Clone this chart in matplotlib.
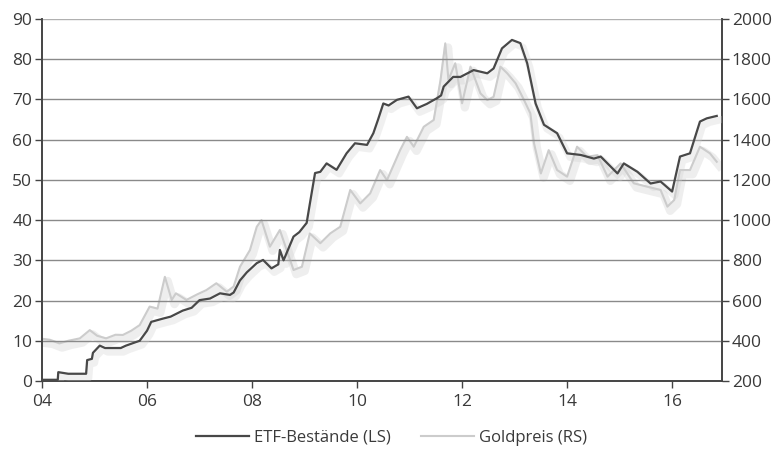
import matplotlib
matplotlib.use("Agg")
import matplotlib.pyplot as plt
import matplotlib.patheffects as pe

etf_years = [2004.0, 2004.3, 2004.31, 2004.5, 2004.84, 2004.86, 2004.95, 2004.97, 2005.1, 2005.2, 2005.5,
             2005.6, 2005.86, 2006.0, 2006.08, 2006.3, 2006.45, 2006.68, 2006.85, 2007.0, 2007.2, 2007.39,
             2007.58, 2007.65, 2007.77, 2007.9, 2008.09, 2008.21, 2008.37, 2008.5, 2008.53, 2008.6, 2008.79,
             2008.9, 2009.04, 2009.1, 2009.2, 2009.3, 2009.42, 2009.61, 2009.8, 2009.96, 2010.19, 2010.31,
             2010.4, 2010.5, 2010.6, 2010.76, 2010.98, 2011.14, 2011.33, 2011.52, 2011.6, 2011.65, 2011.83,
             2011.97, 2012.22, 2012.48, 2012.6, 2012.76, 2012.95, 2013.11, 2013.24, 2013.4, 2013.56, 2013.81,
             2014.0, 2014.26, 2014.51, 2014.64, 2014.96, 2015.08, 2015.34, 2015.59, 2015.78, 2016.0, 2016.15,
             2016.34, 2016.53, 2016.66, 2016.85]
etf_values = [0.3, 0.3, 2.2, 1.8, 1.8, 5.2, 5.5, 7.0, 8.8, 8.2, 8.2,
              8.8, 10.0, 12.5, 14.7, 15.5, 16.0, 17.5, 18.2, 20.1, 20.5, 21.8,
              21.4, 22.0, 25.0, 27.0, 29.3, 30.1, 28.0, 29.0, 32.6, 30.0, 35.9,
              37.0, 39.3, 44.0, 51.7, 52.0, 54.1, 52.5, 56.6, 59.1, 58.7, 61.6,
              65.0, 69.0, 68.5, 69.9, 70.7, 67.8, 68.9, 70.3, 71.0, 73.2, 75.6,
              75.6, 77.3, 76.5, 77.7, 82.7, 84.8, 84.0, 79.0, 69.0, 63.7, 61.6,
              56.6, 56.2, 55.3, 55.8, 51.6, 54.1, 52.0, 49.1, 49.6, 47.1, 55.8,
              56.6, 64.5, 65.3, 65.9]

gold_years = [2004.0, 2004.15, 2004.33, 2004.5, 2004.72, 2004.91, 2005.05, 2005.22, 2005.4, 2005.54, 2005.7,
              2005.86, 2006.05, 2006.2, 2006.34, 2006.47, 2006.55, 2006.75, 2006.95, 2007.13, 2007.32, 2007.52,
              2007.65, 2007.77, 2007.96, 2008.09, 2008.18, 2008.34, 2008.53, 2008.66, 2008.79, 2008.95, 2009.1,
              2009.3, 2009.49, 2009.68, 2009.87, 2010.06, 2010.25, 2010.44, 2010.57, 2010.82, 2010.95, 2011.08,
              2011.27, 2011.46, 2011.59, 2011.68, 2011.74, 2011.87, 2012.0, 2012.16, 2012.35, 2012.48, 2012.6,
              2012.73, 2012.86, 2013.02, 2013.18, 2013.3, 2013.37, 2013.5, 2013.65, 2013.81, 2014.0, 2014.19,
              2014.38, 2014.58, 2014.77, 2015.02, 2015.27, 2015.53, 2015.78, 2015.91, 2016.04, 2016.15, 2016.34,
              2016.53, 2016.72, 2016.85]
gold_values = [410, 405, 387, 400, 412, 453, 425, 412, 430, 429, 450,
               478, 570, 560, 718, 603, 636, 603, 630, 652, 686, 644,
               670, 768, 851, 967, 1000, 868, 951, 851, 752, 768, 934,
               885, 934, 967, 1150, 1083, 1133, 1249, 1199, 1348, 1414, 1365,
               1464, 1498, 1697, 1879, 1697, 1780, 1581, 1763, 1630, 1597, 1613,
               1763, 1730, 1680, 1597, 1531, 1382, 1232, 1348, 1249, 1216, 1365,
               1315, 1323, 1216, 1282, 1183, 1166, 1150, 1067, 1100, 1249, 1249,
               1365, 1332, 1290]

x_ticks = [2004, 2006, 2008, 2010, 2012, 2014, 2016]
x_labels = ["04", "06", "08", "10", "12", "14", "16"]
left_ticks = list(range(0, 91, 10))
right_ticks = list(range(200, 2001, 200))

plt.rcParams['font.family'] = ['Open Sans', 'DejaVu Sans']

fig = plt.figure(figsize=(7.83, 4.54), dpi=100)
ax = fig.add_axes([42/783, 1-381/454, (722-42)/783, (381-19)/454])
ax2 = ax.twinx()

ax.set_xlim(2004, 2016.95)
ax.set_ylim(0, 90)
ax2.set_ylim(200, 2000)

for v in left_ticks[1:]:
    ax.axhline(v, color='#8a8a8a' if v < 90 else '#b0b0b0', lw=1.0, zorder=0)

shadow_g = [pe.SimpleLineShadow(offset=(2, -3), shadow_color='#c8c8c8', alpha=0.3, linewidth=6), pe.Normal()]
shadow_e = [pe.SimpleLineShadow(offset=(2, -3), shadow_color='#d0d0d0', alpha=0.3, linewidth=5), pe.Normal()]

ax2.plot(gold_years, gold_values, color='#cccccc', lw=1.5, path_effects=shadow_g, zorder=2)
ax.set_zorder(ax2.get_zorder() + 1)
ax.patch.set_visible(False)
ax.plot(etf_years, etf_values, color='#484848', lw=1.6, path_effects=shadow_e, zorder=3)

ax.set_xticks(x_ticks)
ax.set_xticklabels(x_labels)
ax.set_yticks(left_ticks)
ax2.set_yticks(right_ticks)

for a in (ax, ax2):
    a.spines['top'].set_visible(False)
    for s in ('left', 'right', 'bottom'):
        a.spines[s].set_color('#444444')
        a.spines[s].set_linewidth(1.2)
    a.tick_params(colors='#444444', labelcolor='#3a3a3a', labelsize=12.5, length=5, width=1)
ax.tick_params(axis='x', pad=4)
ax.tick_params(axis='y', pad=2)
ax2.tick_params(axis='y', pad=2)

h1, = ax.plot([], [], color='#484848', lw=1.6)
h2, = ax.plot([], [], color='#cccccc', lw=1.5)
fig.legend([h1, h2], ['ETF-Bestände (LS)', 'Goldpreis (RS)'], loc='center',
           bbox_to_anchor=(0.5, 1-438/454), ncol=2, frameon=False, fontsize=12,
           handlelength=3.2, columnspacing=1.8, handletextpad=0.3, labelcolor='#3a3a3a')

fig.savefig('out.png', dpi=100)
